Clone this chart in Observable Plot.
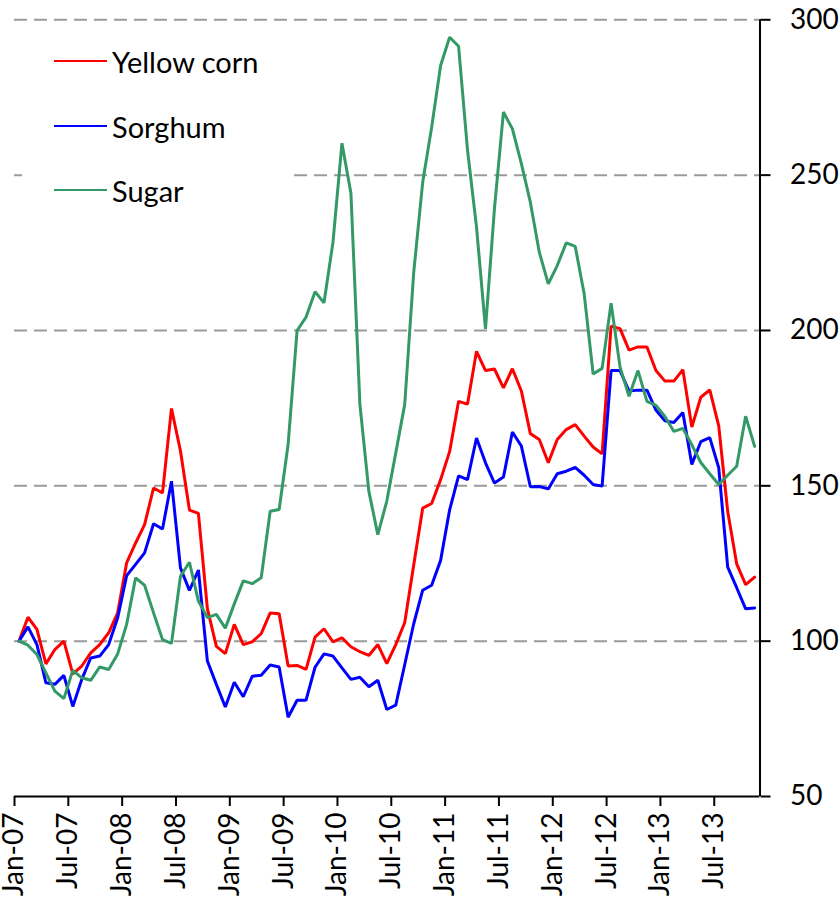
<!DOCTYPE html>
<html>
<head>
<meta charset="utf-8">
<script src="https://cdn.jsdelivr.net/npm/d3@7"></script>
<script src="https://cdn.jsdelivr.net/npm/@observablehq/plot@0.6"></script>
<style>
  html, body { margin: 0; padding: 0; background: #fff; }
  #wrap { position: relative; width: 840px; height: 903px; }
  #legend { position: absolute; left: 22px; top: 28px; width: 272px; height: 200px; background: #fff;
            font-family: Lato, "Open Sans", sans-serif; font-size: 29px; color: #000; }
  .item { position: absolute; left: 32px; height: 40px; display: flex; align-items: center; }
  .sw { width: 53px; height: 0; border-top: 2.5px solid; margin-right: 5px; }
</style>
</head>
<body>
<div id="wrap"><div id="chart"></div><div id="legend"></div></div>
<script>
const seriesNames = ["Yellow corn", "Sorghum", "Sugar"];
const seriesColors = ["#ff0000", "#0000ff", "#339966"];
const tickMonths = [0, 6, 12, 18, 24, 30, 36, 42, 48, 54, 60, 66, 72, 78];
const tickLabels = ["Jan-07","Jul-07","Jan-08","Jul-08","Jan-09","Jul-09","Jan-10","Jul-10","Jan-11","Jul-11","Jan-12","Jul-12","Jan-13","Jul-13"];
const yTicks = [50, 100, 150, 200, 250, 300];
const gridValues = [100, 150, 200, 250, 300];

// Monthly index values, Jan-07 .. Nov-13 (Jan-07 = 100)
const yellowCorn = [100,107.7,103.8,92.7,97.3,100,89.5,92,96.2,98.9,102.7,109.1,
  125.2,131.6,137.5,149.3,147.7,174.9,161.2,142.2,141.1,110.5,98.3,96,
  105.4,98.9,99.8,102.4,109.1,108.8,92,92.2,90.9,101.3,104,99.8,
  101.1,98.2,96.6,95.4,98.9,92.8,98.9,106,124.5,142.8,144.3,152,
  161,177.2,176.3,193.3,187.1,187.6,181.5,187.7,180.5,166.8,164.9,157.4,
  164.9,168.1,169.7,166,162.5,160.3,201.4,200.6,193.7,194.7,194.7,187.1,
  183.7,183.7,187.4,168.9,178.5,180.9,169.3,141.7,124.9,118.2,120.6];
const sorghum = [100,104.6,98.9,86.6,86.1,89,79,87.7,94.6,95.2,98.9,107.5,
  121.1,124.7,128.4,137.8,136.1,151.5,123.6,116.3,122.9,93.6,86.1,78.8,
  86.8,82.1,88.7,89,92.3,91.7,75.5,81,81,91.6,95.9,95.2,
  91.4,87.7,88.4,85.3,87.4,78,79.4,92.5,105.6,116.4,118,126,
  142.2,153.2,152,165.4,157.4,150.9,152.8,167.3,162.8,149.7,149.8,149,
  153.9,154.7,155.9,153.4,150.4,149.9,187.1,187.1,180.5,180.8,180.8,174.4,
  170.9,170.4,173.6,156.9,164.2,165.5,155.8,123.8,117.2,110.4,110.7];
const sugar = [100,98.7,95.7,89.8,83.9,81.5,90.6,88.2,87.4,91.7,90.9,95.9,
  105.4,120.4,118,109.1,100.5,99.3,120.9,125.4,112.9,107.6,108.6,104.2,
  112,119.4,118.5,120.4,141.8,142.4,163.3,200,204.3,212.5,208.9,228.4,
  260.3,244.2,176.3,148.2,134.3,145.1,160.6,176.3,218.7,247.7,265.4,285.3,
  294.4,291.5,258,233.3,200.5,239.2,270.3,264.9,253.7,241.3,225.2,215,
  220.9,228.2,227.1,211.8,186,187.8,208.8,188.2,178.8,187.1,177.2,175.9,
  172.3,167.5,168.5,163.2,157.5,153.9,150.4,153.4,156.3,172.4,162.7];

const seriesValues = [yellowCorn, sorghum, sugar];
const rows = [];
seriesValues.forEach((vals, k) => vals.forEach((v, i) => rows.push({m: i + 0.5, v, s: seriesNames[k]})));

const xMax = 83.1;
const chart = Plot.plot({
  width: 840, height: 903,
  marginLeft: 14, marginRight: 80.5, marginTop: 19.3, marginBottom: 107,
  x: {domain: [0, xMax], axis: null, label: null},
  y: {domain: [50, 300], axis: null, label: null},
  color: {domain: seriesNames, range: seriesColors},
  style: {fontFamily: "Lato, 'Open Sans', sans-serif", fontSize: "28px", color: "#000", background: "#fff"},
  marks: [
    Plot.ruleY(gridValues, {stroke: "#9a9a9a", strokeWidth: 2, strokeDasharray: "13,7"}),
    Plot.lineY(rows, {x: "m", y: "v", z: "s", stroke: "s", strokeWidth: 3, strokeLinejoin: "miter"}),
    Plot.ruleY([50], {stroke: "#000", strokeWidth: 2}),
    Plot.ruleX([xMax], {y1: 50, y2: 300, stroke: "#000", strokeWidth: 2}),
    Plot.axisX({ticks: tickMonths, tickFormat: d => tickLabels[tickMonths.indexOf(d)], tickRotate: -90,
      tickSize: 10, tickPadding: 6, strokeWidth: 2, fontSize: 28, fill: "#000", label: null}),
    Plot.axisY({anchor: "right", ticks: yTicks, tickFormat: d => String(d), tickSize: 10, tickPadding: 20,
      strokeWidth: 2, fontSize: 28, fill: "#000", label: null})
  ]
});
document.getElementById("chart").appendChild(chart);

const legend = document.getElementById("legend");
const itemTops = [13, 78, 142];
seriesNames.forEach((name, k) => {
  const it = document.createElement("div");
  it.className = "item";
  it.style.top = itemTops[k] + "px";
  const sw = document.createElement("span");
  sw.className = "sw";
  sw.style.borderTopColor = seriesColors[k];
  const tx = document.createElement("span");
  tx.textContent = name;
  it.appendChild(sw); it.appendChild(tx);
  legend.appendChild(it);
});
</script>
</body>
</html>
